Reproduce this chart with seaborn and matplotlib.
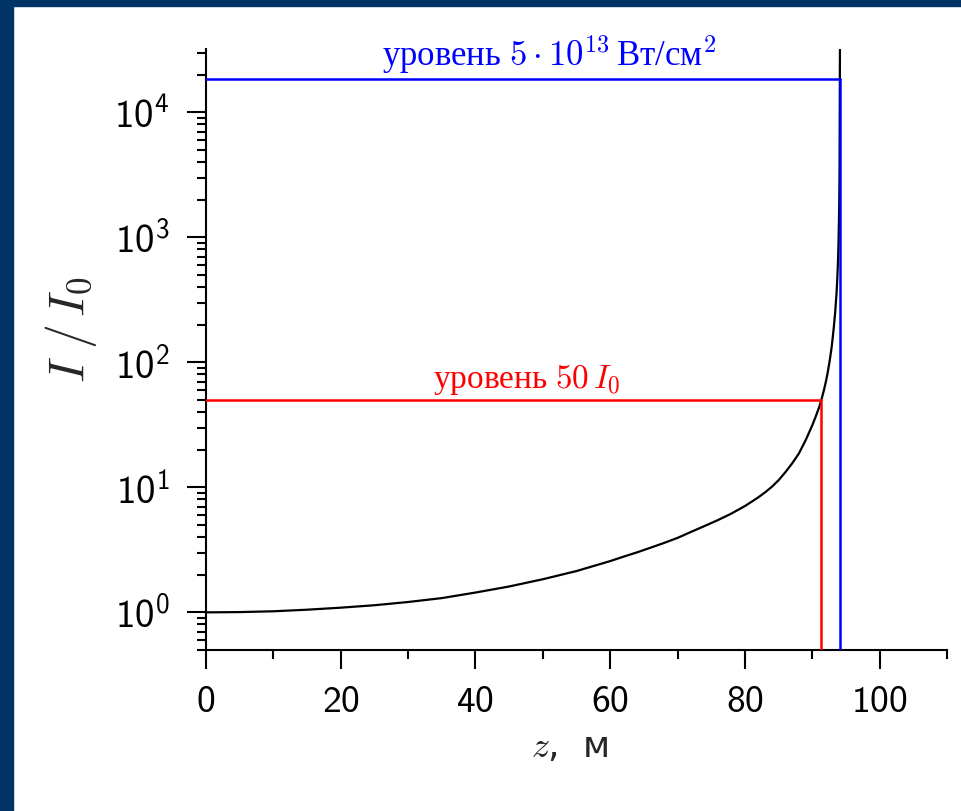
import numpy as np
import pandas as pd
import matplotlib
matplotlib.use('Agg')
import matplotlib.pyplot as plt
import seaborn as sns
from matplotlib.ticker import FixedLocator, MultipleLocator, LogLocator, FuncFormatter, NullFormatter

# curve: distance z (m) and intensity ratio I/I0
z_vals = [0, 5, 10, 15, 20, 25, 30, 35, 40, 45, 50, 55, 60, 62, 64, 66, 68,
          70, 72, 74, 76, 78, 80, 81, 82, 83, 84, 85, 86, 87, 88, 89, 90,
          90.5, 91, 91.35, 91.7, 92, 92.3, 92.6, 92.9, 93.2, 93.4, 93.6,
          93.7, 93.8, 93.9, 94.0, 94.05, 94.12]
ratio_vals = [1.00, 1.005, 1.02, 1.05, 1.09, 1.14, 1.21, 1.30, 1.44, 1.61,
              1.84, 2.14, 2.57, 2.79, 3.02, 3.29, 3.59, 3.94, 4.40, 4.90,
              5.47, 6.17, 7.08, 7.67, 8.32, 9.12, 10.1, 11.4, 13.2, 15.5,
              18.6, 23.7, 31.3, 36.7, 43.4, 50.0, 58.9, 69.2, 83.2, 104,
              135, 191, 251, 355, 447, 603, 912, 1780, 3550, 50000]

# threshold levels
level_red = 50.0          # 50 I0
z_red = 91.35
level_blue = 1.85e4       # 5e13 W/cm^2
z_blue = 94.1

y_ticks = [1, 10, 100, 1000, 10000]
x_ticks = [0, 20, 40, 60, 80, 100]

df = pd.DataFrame({'z': z_vals, 'ratio': ratio_vals})

sns.set_style('ticks')
plt.rcParams['font.family'] = ['DejaVu Sans']
plt.rcParams['mathtext.fontset'] = 'custom'
plt.rcParams['mathtext.rm'] = 'cmr10'
plt.rcParams['mathtext.it'] = 'cmmi10'
plt.rcParams['mathtext.sf'] = 'cmss10'
plt.rcParams['mathtext.fallback'] = 'cm'

fig = plt.figure(figsize=(9.61, 8.12), dpi=100)
ax = fig.add_axes([206 / 961, 161 / 812, 741 / 961, 601 / 812])

# dark blue slide frame
fig.add_artist(plt.Rectangle((0, 0), 13 / 961, 1, transform=fig.transFigure,
                             color='#003366', zorder=-5))
fig.add_artist(plt.Rectangle((0, 1 - 7 / 812), 1, 7 / 812, transform=fig.transFigure,
                             color='#003366', zorder=-5))

sns.lineplot(data=df, x='z', y='ratio', color='black', linewidth=1.6, ax=ax,
             zorder=2, estimator=None, sort=False)

ax.set_yscale('log')
ax.set_xlim(0, 110)
ax.set_ylim(0.5, 3.2e4)

# level lines
ax.plot([0, z_red], [level_red, level_red], color='red', lw=1.8, zorder=3)
ax.plot([z_red, z_red], [0.5, level_red], color='red', lw=1.8, zorder=3)
ax.plot([0, z_blue], [level_blue, level_blue], color='blue', lw=1.8, zorder=3)
ax.plot([z_blue, z_blue], [0.5, level_blue], color='blue', lw=1.8, zorder=3)

ax.text(51, level_blue * 1.07, r'уровень $5\cdot10^{13}\,$Вт/см$^2$', color='blue',
        family='Liberation Serif', fontsize=25, ha='center', va='bottom')
ax.text(47.6, level_red * 1.07, r'уровень $50\,I_0$', color='red',
        family='Liberation Serif', fontsize=24, ha='center', va='bottom')

sns.despine(ax=ax)
for s in ['left', 'bottom']:
    ax.spines[s].set_linewidth(1.5)
    ax.spines[s].set_color('black')

ax.yaxis.set_major_locator(FixedLocator(y_ticks))
ax.yaxis.set_minor_locator(LogLocator(base=10, subs=np.arange(2, 10)))
ax.yaxis.set_major_formatter(FuncFormatter(
    lambda v, p: r'$\mathsf{10}^{\mathsf{%d}}$' % round(np.log10(v))))
ax.yaxis.set_minor_formatter(NullFormatter())
ax.xaxis.set_major_locator(FixedLocator(x_ticks))
ax.xaxis.set_minor_locator(MultipleLocator(10))
ax.xaxis.set_major_formatter(FuncFormatter(lambda v, p: r'$\mathsf{%d}$' % v))

ax.tick_params(which='major', length=14, width=1.5, labelsize=27, color='black',
               labelcolor='black')
ax.tick_params(which='minor', length=6.5, width=1.5, color='black')
ax.tick_params(axis='y', which='major', pad=12, labelsize=28)
ax.tick_params(axis='x', which='major', pad=10)

ax.set_ylabel(r'$I\;/\,I_0$', fontsize=36)
ax.yaxis.set_label_coords(-0.145, 0.534)
ax.set_xlabel(r'$z$,  м', fontsize=26)
ax.xaxis.set_label_coords(0.49, -0.131)

fig.savefig('out.png', dpi=100, facecolor='white')
